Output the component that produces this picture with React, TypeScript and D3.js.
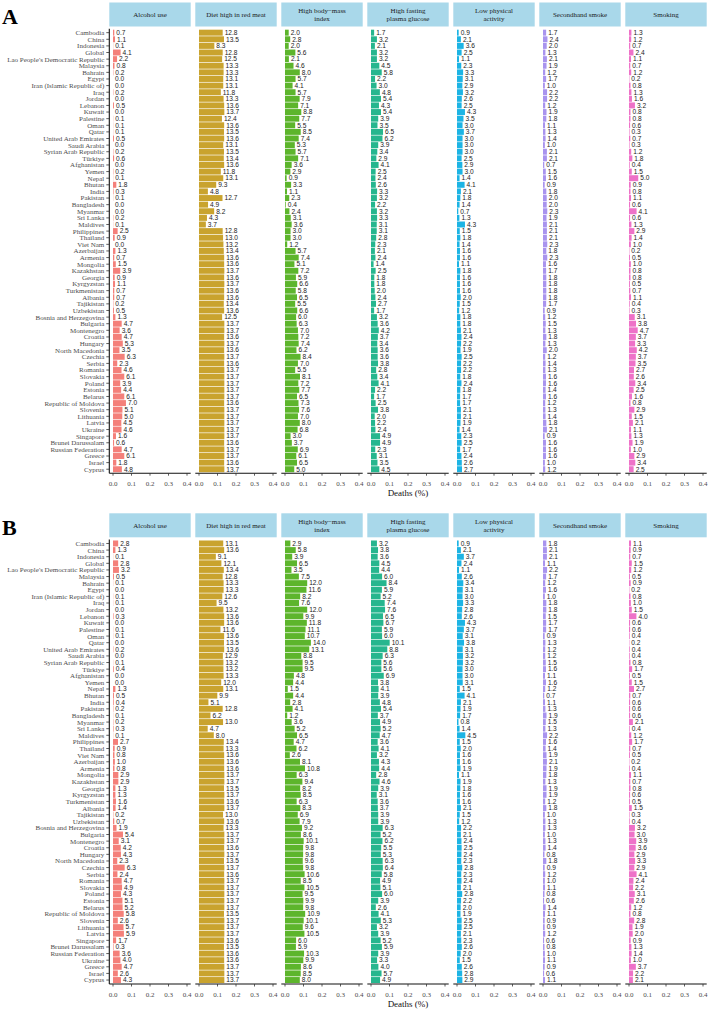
import * as d3 from 'd3'

// country order for each panel (top to bottom)
const countriesA = [
  'Cambodia', 'China', 'Indonesia', 'Global', "Lao People's Democratic Republic", 'Malaysia', 'Bahrain', 'Egypt',
  'Iran (Islamic Republic of)', 'Iraq', 'Jordan', 'Lebanon', 'Kuwait', 'Palestine', 'Oman', 'Qatar',
  'United Arab Emirates', 'Saudi Arabia', 'Syrian Arab Republic', 'Türkiye', 'Afghanistan', 'Yemen', 'Nepal', 'Bhutan',
  'India', 'Pakistan', 'Bangladesh', 'Myanmar', 'Sri Lanka', 'Maldives', 'Philippines', 'Thailand', 'Viet Nam',
  'Azerbaijan', 'Armenia', 'Mongolia', 'Kazakhstan', 'Georgia', 'Kyrgyzstan', 'Turkmenistan', 'Albania', 'Tajikistan',
  'Uzbekistan', 'Bosnia and Herzegovina', 'Bulgaria', 'Montenegro', 'Croatia', 'Hungary', 'North Macedonia', 'Czechia',
  'Serbia', 'Romania', 'Slovakia', 'Poland', 'Estonia', 'Belarus', 'Republic of Moldova', 'Slovenia', 'Lithuania',
  'Latvia', 'Ukraine', 'Singapore', 'Brunei Darussalam', 'Russian Federation', 'Greece', 'Israel', 'Cyprus',
]
const countriesB = [
  ...countriesA.slice(0, 60),
  'Singapore', 'Brunei Darussalam', 'Russian Federation', 'Ukraine', 'Greece', 'Israel', 'Cyprus',
]

const factors = [
  ['Alcohol use'], ['Diet high in red meat'], ['High body−mass', 'index'], ['High fasting', 'plasma glucose'],
  ['Low physical', 'activity'], ['Secondhand smoke'], ['Smoking'],
]
const colors = ['#F4807A', '#C9A32E', '#5DB52C', '#26B68E', '#1DB4E4', '#A994EE', '#EE72C8']
const xTicks = [0, 0.1, 0.2, 0.3, 0.4]

// panel A, deaths (%)
const alcoholA = [0.7, 1.1, 0.1, 4.1, 2.2, 0.8, 0.2, 0.0, 0.0, 0.2, 0.0, 0.5, 0.0, 0.1, 0.1, 0.1, 0.5, 0.0, 0.2, 0.6,
  0.0, 0.2, 0.1, 1.8, 0.3, 0.1, 0.0, 0.0, 0.2, 0.1, 2.5, 0.9, 0.0, 1.3, 0.7, 1.5, 3.9, 0.9, 1.1, 0.7, 0.7, 0.2, 0.5,
  1.3, 4.7, 3.6, 4.7, 5.3, 3.5, 6.3, 2.3, 4.6, 6.1, 3.9, 4.4, 6.1, 7.0, 5.1, 5.0, 4.5, 4.6, 1.6, 0.6, 4.7, 6.1, 1.8, 4.8]
const dietA = [12.8, 13.5, 8.3, 12.8, 12.5, 13.3, 13.3, 13.1, 13.1, 11.8, 13.3, 13.6, 13.7, 12.4, 13.6, 13.5, 13.6, 13.1,
  13.5, 13.4, 13.6, 11.8, 13.1, 9.3, 4.8, 12.7, 4.9, 8.2, 4.3, 3.7, 12.8, 13.0, 13.2, 13.4, 13.6, 13.6, 13.7, 13.6, 13.7,
  13.6, 13.6, 13.4, 13.6, 12.5, 13.7, 13.7, 13.6, 13.7, 13.6, 13.7, 13.6, 13.7, 13.7, 13.7, 13.7, 13.7, 13.6, 13.7, 13.7,
  13.7, 13.7, 13.7, 13.6, 13.7, 13.7, 13.6, 13.7]
const bmiA = [2.0, 2.8, 2.0, 5.6, 2.1, 4.6, 8.0, 5.7, 4.1, 5.7, 7.9, 7.1, 8.8, 7.7, 5.5, 8.5, 7.4, 5.3, 5.7, 7.1, 3.6, 2.9,
  0.9, 3.3, 1.1, 2.3, 0.4, 2.4, 3.1, 3.6, 3.0, 3.0, 1.2, 5.7, 7.4, 5.1, 7.2, 5.9, 6.6, 5.8, 6.5, 5.5, 6.6, 6.0, 6.3, 7.0,
  7.2, 7.4, 6.2, 8.4, 7.0, 5.5, 8.1, 7.2, 7.7, 6.5, 7.3, 7.6, 7.0, 8.0, 6.8, 3.0, 3.7, 6.9, 6.1, 6.5, 5.0]
const glucoseA = [1.7, 3.2, 2.1, 3.2, 3.2, 4.5, 5.8, 2.2, 3.0, 4.8, 5.4, 4.3, 5.4, 3.9, 3.5, 6.5, 6.2, 3.9, 3.4, 2.9, 4.1,
  2.5, 2.4, 2.6, 3.3, 3.2, 2.2, 3.2, 3.3, 3.1, 3.1, 2.8, 2.3, 2.1, 2.4, 1.4, 2.5, 1.8, 1.8, 2.0, 2.4, 2.7, 1.7, 3.2, 3.6,
  4.2, 3.7, 3.4, 3.6, 3.6, 3.8, 2.8, 3.4, 4.1, 2.2, 1.7, 2.5, 3.8, 2.0, 2.2, 2.4, 4.9, 4.9, 2.3, 3.1, 3.5, 4.5]
const activityA = [0.9, 2.1, 3.6, 2.5, 1.1, 2.3, 3.3, 3.1, 2.9, 3.2, 2.6, 2.5, 4.3, 3.5, 3.0, 3.7, 3.0, 3.0, 3.0, 2.5, 2.9,
  3.0, 1.4, 4.1, 2.1, 1.8, 1.4, 0.7, 1.3, 4.3, 1.5, 1.8, 1.4, 1.6, 1.6, 1.1, 1.8, 1.6, 1.6, 1.6, 2.0, 1.5, 1.2, 1.8, 1.8,
  2.1, 2.4, 2.2, 1.9, 2.5, 2.2, 2.2, 1.8, 2.4, 1.8, 1.7, 1.7, 2.1, 2.1, 1.9, 1.4, 2.3, 2.5, 1.7, 2.4, 2.6, 2.7]
const secondhandA = [1.7, 2.4, 2.0, 1.3, 2.1, 1.9, 1.2, 1.7, 1.0, 2.2, 2.2, 1.2, 1.9, 1.8, 1.1, 1.3, 1.4, 1.0, 2.1, 2.1,
  0.7, 1.5, 1.6, 0.9, 1.8, 2.0, 2.0, 2.3, 1.9, 2.1, 2.1, 2.1, 2.3, 1.8, 2.3, 1.6, 1.7, 1.8, 1.8, 1.8, 1.8, 1.7, 0.9, 1.2,
  1.5, 1.3, 1.8, 1.3, 2.0, 1.2, 1.4, 1.3, 1.6, 1.6, 1.4, 1.6, 1.2, 1.3, 1.4, 1.8, 2.1, 0.9, 1.6, 1.6, 1.6, 1.0, 1.2]
const smokingA = [1.3, 1.2, 0.7, 2.4, 1.1, 0.7, 1.2, 0.2, 0.8, 1.3, 1.6, 3.2, 0.8, 0.8, 0.6, 0.3, 0.7, 0.3, 1.2, 1.8, 0.4,
  1.5, 5.0, 0.9, 0.8, 1.1, 0.6, 4.1, 0.6, 1.3, 2.9, 1.4, 1.0, 0.2, 0.5, 1.0, 0.8, 0.8, 0.5, 0.7, 1.1, 0.4, 0.3, 3.1, 3.8,
  4.7, 3.7, 3.3, 4.2, 3.7, 3.5, 2.7, 2.6, 3.4, 2.5, 1.6, 0.8, 2.9, 1.5, 2.1, 1.1, 1.3, 1.9, 1.0, 2.9, 3.4, 2.5]

// panel B, deaths (%)
const alcoholB = [2.8, 1.3, 0.1, 2.8, 3.2, 0.5, 0.1, 0.0, 0.1, 0.1, 0.0, 0.3, 0.0, 0.1, 0.1, 0.0, 0.2, 0.0, 0.1, 0.4,
  0.0, 0.0, 1.3, 0.5, 0.4, 0.2, 0.1, 0.2, 0.3, 0.1, 2.7, 0.9, 0.8, 1.0, 0.8, 2.9, 2.9, 1.3, 1.3, 1.6, 1.4, 0.2, 0.7,
  1.9, 5.4, 3.1, 4.2, 4.3, 2.3, 6.3, 2.4, 4.7, 4.9, 4.3, 5.1, 5.2, 5.8, 2.6, 5.7, 5.9, 1.7, 0.3, 3.6, 4.0, 4.7, 2.6, 4.3]
const dietB = [13.1, 13.6, 9.1, 12.1, 13.4, 12.8, 13.3, 13.3, 12.6, 9.5, 13.2, 13.6, 13.6, 11.6, 13.6, 13.5, 13.6, 12.9,
  13.2, 13.2, 13.3, 12.0, 13.1, 9.9, 5.1, 12.8, 6.2, 13.0, 4.7, 8.0, 13.4, 13.3, 13.6, 13.6, 13.6, 13.7, 13.7, 13.5, 13.7,
  13.6, 13.7, 13.0, 13.6, 13.3, 13.7, 13.7, 13.6, 13.7, 13.5, 13.7, 13.6, 13.7, 13.7, 13.7, 13.7, 13.7, 13.5, 13.7, 13.7,
  13.7, 13.6, 13.5, 13.6, 13.6, 13.7, 13.7, 13.7]
const bmiB = [2.9, 5.8, 3.9, 6.5, 3.5, 7.5, 12.0, 11.6, 8.2, 7.6, 12.0, 9.9, 11.8, 11.1, 10.7, 14.0, 13.1, 8.8, 9.5, 9.5,
  4.8, 4.4, 1.5, 4.4, 2.8, 4.1, 1.2, 3.6, 5.2, 6.5, 4.7, 6.2, 2.6, 8.1, 10.8, 6.3, 9.4, 8.2, 8.5, 6.3, 8.3, 6.9, 7.9, 9.2,
  8.6, 10.1, 9.8, 9.8, 9.6, 9.8, 10.6, 8.5, 10.5, 9.5, 9.9, 9.8, 10.9, 10.1, 9.6, 10.5, 6.0, 5.9, 10.3, 9.9, 8.6, 8.5, 8.0]
const glucoseB = [3.2, 3.8, 3.6, 4.5, 4.4, 6.0, 8.4, 5.9, 5.2, 7.4, 7.6, 6.5, 6.7, 5.9, 6.0, 10.1, 8.8, 6.3, 5.6, 5.6, 6.9,
  3.8, 4.1, 3.9, 4.8, 5.4, 3.7, 4.9, 5.2, 4.7, 3.6, 4.1, 3.2, 4.3, 4.4, 2.8, 4.6, 3.9, 3.1, 3.6, 3.7, 3.9, 3.9, 6.3, 5.2,
  6.2, 5.5, 5.3, 6.3, 6.4, 5.8, 4.9, 5.1, 6.0, 3.9, 2.6, 4.1, 5.3, 3.2, 3.9, 5.2, 5.9, 3.9, 3.3, 4.0, 5.7, 4.9]
const activityB = [0.9, 2.1, 3.7, 2.4, 1.1, 2.6, 3.4, 3.1, 3.0, 3.3, 2.8, 2.6, 4.3, 3.7, 3.1, 3.8, 3.1, 3.2, 3.2, 3.0, 3.0,
  3.1, 1.5, 4.1, 2.1, 1.9, 1.7, 0.8, 1.4, 4.5, 1.5, 2.0, 1.6, 1.6, 1.9, 1.1, 1.9, 1.8, 1.6, 1.6, 2.1, 1.5, 1.2, 2.2, 2.1,
  2.4, 2.5, 2.4, 2.3, 2.8, 2.3, 2.4, 2.1, 2.8, 2.2, 2.0, 1.9, 2.5, 2.5, 2.1, 2.3, 2.6, 2.0, 1.5, 2.6, 2.8, 2.9]
const secondhandB = [1.8, 2.1, 2.1, 1.1, 2.2, 1.7, 1.2, 1.6, 1.0, 1.8, 1.8, 1.5, 1.7, 1.7, 0.9, 1.3, 1.2, 1.2, 1.5, 1.6,
  1.1, 1.6, 1.2, 0.7, 1.1, 1.3, 1.9, 1.5, 1.3, 2.2, 1.6, 1.4, 1.9, 2.1, 1.9, 1.8, 1.3, 1.9, 1.9, 1.2, 1.8, 1.0, 1.3, 1.3,
  1.0, 1.3, 1.4, 0.8, 1.8, 0.9, 1.2, 1.0, 1.1, 0.8, 0.6, 1.4, 1.1, 0.9, 0.9, 1.2, 0.6, 0.8, 1.0, 1.1, 0.9, 0.6, 1.1]
const smokingB = [1.1, 0.9, 0.7, 1.5, 1.2, 0.5, 0.9, 0.2, 0.8, 1.0, 1.5, 4.0, 0.6, 0.6, 0.4, 0.2, 0.4, 0.4, 0.8, 1.7, 0.5,
  1.5, 2.7, 0.7, 0.6, 0.6, 0.6, 2.1, 0.4, 1.2, 1.7, 0.7, 0.5, 0.2, 0.4, 1.1, 0.7, 0.8, 0.6, 0.5, 1.5, 0.3, 0.4, 3.2, 3.0,
  3.9, 3.6, 2.9, 3.3, 2.9, 4.1, 2.4, 2.2, 3.1, 2.6, 1.2, 0.8, 2.8, 1.9, 2.0, 0.9, 1.3, 1.4, 1.0, 3.7, 2.2, 2.1]

const seriesA = [alcoholA, dietA, bmiA, glucoseA, activityA, secondhandA, smokingA]
const seriesB = [alcoholB, dietB, bmiB, glucoseB, activityB, secondhandB, smokingB]

const serif = '"Liberation Serif", "Times New Roman", serif'
const narrow = '"Liberation Sans Narrow", "Arial Narrow", "Liberation Sans", sans-serif'

const left0 = 109.3
const facetStep = 86
const facetW = 81.4
const panelH = 444.5

function Panel({ tag, top, countries, series }) {
  const bottom = top + panelH
  const y = d3.scalePoint().domain(countries).range([top, bottom]).padding(0.6)
  const barH = y.step() * 0.9

  return (
    <g>
      <text x={2} y={top - 5} fontFamily={serif} fontWeight="bold" fontSize={22}>{tag}</text>

      {/* country labels and y axis on the first facet */}
      <line x1={left0} x2={left0} y1={top} y2={bottom} stroke="#111" strokeWidth={1.1} />
      {countries.map(c => (
        <g key={c}>
          <line x1={left0 - 3} x2={left0} y1={y(c)} y2={y(c)} stroke="#333" strokeWidth={0.8} />
          <text x={left0 - 5} y={y(c)} dy="0.35em" textAnchor="end" fontFamily={serif}
            fontSize={7} fill="#4d4d4d">{c}</text>
        </g>
      ))}

      {factors.map((lines, fi) => {
        const fx = left0 + fi * facetStep
        const x = d3.scaleLinear().domain([-0.02, 0.42]).range([fx, fx + facetW])
        const values = series[fi]
        return (
          <g key={fi}>
            <rect x={fx} y={top - 26.2} width={facetW} height={24} fill="#a9d8ea" />
            {lines.map((t, li) => (
              <text key={li} x={fx + facetW / 2} y={top - 14.2 + (li - (lines.length - 1) / 2) * 8.2}
                dy="0.35em" textAnchor="middle" fontFamily={serif} fontSize={7} fill="#1a1a1a">{t}</text>
            ))}

            {countries.map((c, i) => {
              const v = values[i]
              return (
                <g key={c}>
                  <rect x={x(0)} y={y(c) - barH / 2} width={x(v / 100) - x(0)} height={barH} fill={colors[fi]} />
                  <text x={x(v / 100) + 2} y={y(c)} dy="0.35em" fontFamily={narrow} fontSize={6.6}
                    fill="#1a1a1a">{v.toFixed(1)}</text>
                </g>
              )
            })}

            <line x1={fx} x2={fx + facetW} y1={bottom} y2={bottom} stroke="#111" strokeWidth={1.1} />
            {xTicks.map(t => (
              <g key={t}>
                <line x1={x(t)} x2={x(t)} y1={bottom} y2={bottom + 2.5} stroke="#333" strokeWidth={0.8} />
                <text x={x(t)} y={bottom + 12.5} textAnchor="middle" fontFamily={serif} fontSize={7}
                  fill="#4d4d4d">{d3.format('.1f')(t)}</text>
              </g>
            ))}
          </g>
        )
      })}

      <text x={left0 + (6 * facetStep + facetW) / 2} y={bottom + 23} textAnchor="middle"
        fontFamily={serif} fontSize={9} fill="#111">Deaths (%)</text>
    </g>
  )
}

export default function App() {
  return (
    <svg width={709} height={1010} style={{ position: 'absolute', left: 0, top: 0, background: '#fff' }}>
      <rect width={709} height={1010} fill="#fff" />
      <Panel tag="A" top={28.7} countries={countriesA} series={seriesA} />
      <Panel tag="B" top={539.5} countries={countriesB} series={seriesB} />
    </svg>
  )
}
